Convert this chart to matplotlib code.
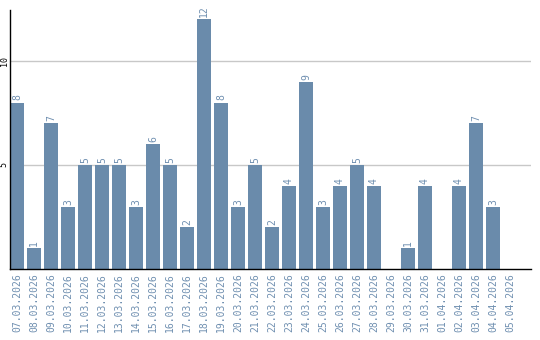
import matplotlib
matplotlib.use("Agg")
import matplotlib.pyplot as plt
import numpy as np

dates = ["07.03.2026", "08.03.2026", "09.03.2026", "10.03.2026", "11.03.2026",
         "12.03.2026", "13.03.2026", "14.03.2026", "15.03.2026", "16.03.2026",
         "17.03.2026", "18.03.2026", "19.03.2026", "20.03.2026", "21.03.2026",
         "22.03.2026", "23.03.2026", "24.03.2026", "25.03.2026", "26.03.2026",
         "27.03.2026", "28.03.2026", "29.03.2026", "30.03.2026", "31.03.2026",
         "01.04.2026", "02.04.2026", "03.04.2026", "04.04.2026", "05.04.2026"]
counts = [8, 1, 7, 3, 5, 5, 5, 3, 6, 5, 2, 12, 8, 3, 5, 2, 4, 9, 3, 4,
          5, 4, 0, 1, 4, 0, 4, 7, 3, 0]
yticks = [5, 10]

bar_color = "#6a8bab"
label_color = "#6f8fb0"

fig = plt.figure(figsize=(5.4, 3.4), dpi=100)
ax = fig.add_axes([10/540, 71/340, 521/540, 259/340])

x = np.arange(len(dates))
ax.bar(x, counts, width=0.82, color=bar_color, zorder=2)
for xi, c in zip(x, counts):
    if c > 0:
        ax.text(xi, c + 0.1, str(c), rotation=90, ha="center", va="bottom",
                fontsize=7, family="DejaVu Sans Mono", color=label_color)

ax.set_xlim(-0.41, len(dates) + 0.24)
ax.set_ylim(0, 12.45)
ax.set_yticks(yticks)
ax.set_yticklabels([str(t) for t in yticks], rotation=90, va="center",
                   fontsize=6, family="DejaVu Sans Mono")
ax.set_xticks(x)
ax.set_xticklabels(dates, rotation=90, fontsize=7, family="DejaVu Sans Mono",
                   color=label_color)
ax.tick_params(length=0, pad=3)
ax.tick_params(axis="y", pad=1)
ax.grid(axis="y", color="#c8c8c8", linewidth=1, zorder=0)
for s in ["top", "right"]:
    ax.spines[s].set_visible(False)
ax.spines["left"].set_linewidth(1.0)
ax.spines["bottom"].set_linewidth(1.0)
ax.spines["left"].set_zorder(3)
ax.spines["bottom"].set_zorder(3)

fig.savefig("out.png", dpi=100)
